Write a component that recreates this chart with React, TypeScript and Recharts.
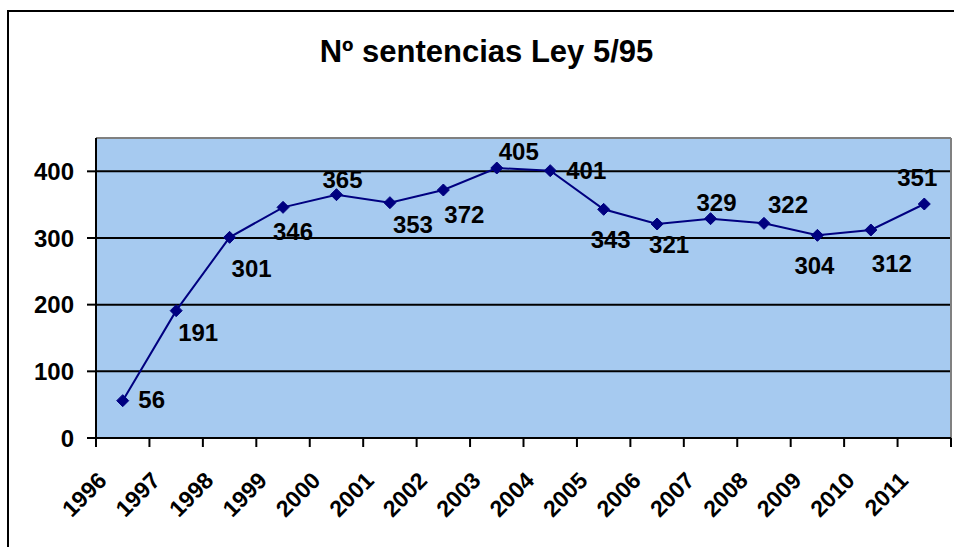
import React from 'react';
import {
  LineChart,
  Line,
  XAxis,
  YAxis,
  CartesianGrid,
  ReferenceLine,
  LabelList,
} from 'recharts';

// Chart values
const years = ['1996', '1997', '1998', '1999', '2000', '2001', '2002', '2003', '2004', '2005', '2006', '2007', '2008', '2009', '2010', '2011'];
const sentencias = [56, 191, 301, 346, 365, 353, 372, 405, 401, 343, 321, 329, 322, 304, 312, 351];
const yTicks = [0, 100, 200, 300, 400];
const chartTitle = 'Nº sentencias Ley 5/95';

// where each data label sits relative to its point (text centre offset, px)
const labelNudge: [number, number][] = [
  [29, -1], [22, 22], [22, 31], [10, 24], [6, -15], [23, 22], [21, 24], [22, -17],
  [36, 0], [7, 30], [12, 20], [6, -16], [24, -19], [-3, 30], [21, 33], [-7, -27],
];

const FONT = "'Liberation Sans', Arial, sans-serif";
const NAVY = '#000080';

const chartData = years.map((year, i) => ({ pos: i + 0.5, year, value: sentencias[i] }));
const xTicks = Array.from({ length: years.length + 1 }, (_, i) => i);

const YearTick = (props: any) => {
  const { x, y, payload } = props;
  const label = years[payload.value];
  if (!label) return <g />;
  return (
    <text
      transform={`translate(${x + 12},${y + 33}) rotate(-45)`}
      textAnchor="end"
      fontFamily={FONT}
      fontWeight="bold"
      fontSize={23}
      fill="#000"
    >
      {label}
    </text>
  );
};

const Diamond = (props: any) => {
  const { cx, cy, index } = props;
  if (cx == null || cy == null) return <g key={`d-${index}`} />;
  const r = 6;
  return (
    <path
      key={`d-${index}`}
      d={`M${cx},${cy - r} L${cx + r},${cy} L${cx},${cy + r} L${cx - r},${cy} Z`}
      fill={NAVY}
      stroke={NAVY}
      strokeWidth={1}
    />
  );
};

const ValueLabel = (props: any) => {
  const { x, y, value, index } = props;
  const [dx, dy] = labelNudge[index] || [0, -15];
  return (
    <text
      x={x + dx}
      y={y + dy}
      dy="0.36em"
      textAnchor="middle"
      fontFamily={FONT}
      fontWeight="bold"
      fontSize={24}
      fill="#000"
    >
      {value}
    </text>
  );
};

export default function App() {
  return (
    <div
      style={{
        position: 'absolute',
        left: 0,
        top: 0,
        width: 954,
        height: 547,
        overflow: 'hidden',
        background: '#fff',
      }}
    >
      {/* outer chart frame, right and bottom edges fall outside the picture */}
      <div
        style={{
          position: 'absolute',
          left: 7,
          top: 10,
          width: 1000,
          height: 600,
          borderTop: '2px solid #000',
          borderLeft: '2px solid #000',
        }}
      />
      <div style={{ position: 'absolute', left: 0, top: 0 }}>
        <LineChart
          width={954}
          height={547}
          data={chartData}
          margin={{ top: 138, right: 3, bottom: 0, left: 0 }}
        >
          <CartesianGrid
            fill="#A6CAF0"
            fillOpacity={1}
            vertical={false}
            stroke="#000"
            strokeWidth={2}
          />
          <ReferenceLine y={450} stroke="#808080" strokeWidth={2} />
          <ReferenceLine x={years.length} stroke="#808080" strokeWidth={2} />
          <XAxis
            dataKey="pos"
            type="number"
            domain={[0, years.length]}
            ticks={xTicks}
            interval={0}
            height={109}
            tickSize={9}
            tickMargin={2}
            axisLine={{ stroke: '#000', strokeWidth: 2 }}
            tickLine={{ stroke: '#000', strokeWidth: 2 }}
            tick={<YearTick />}
          />
          <YAxis
            domain={[0, 450]}
            ticks={yTicks}
            width={96}
            tickSize={9}
            tickMargin={13}
            axisLine={{ stroke: '#000', strokeWidth: 2 }}
            tickLine={{ stroke: '#000', strokeWidth: 2 }}
            tick={{ fontFamily: FONT, fontWeight: 'bold', fontSize: 24, fill: '#000' }}
          />
          <Line
            type="linear"
            dataKey="value"
            stroke={NAVY}
            strokeWidth={2}
            dot={(p: any) => <Diamond key={`dot-${p.index}`} {...p} />}
            activeDot={false}
            isAnimationActive={false}
          >
            <LabelList dataKey="value" content={<ValueLabel />} />
          </Line>
        </LineChart>
      </div>
      <svg
        width={954}
        height={100}
        style={{ position: 'absolute', left: 0, top: 0, pointerEvents: 'none' }}
      >
        <text
          x={486.5}
          y={62}
          textAnchor="middle"
          fontFamily={FONT}
          fontWeight="bold"
          fontSize={31}
          fill="#000"
        >
          {chartTitle}
        </text>
      </svg>
    </div>
  );
}
